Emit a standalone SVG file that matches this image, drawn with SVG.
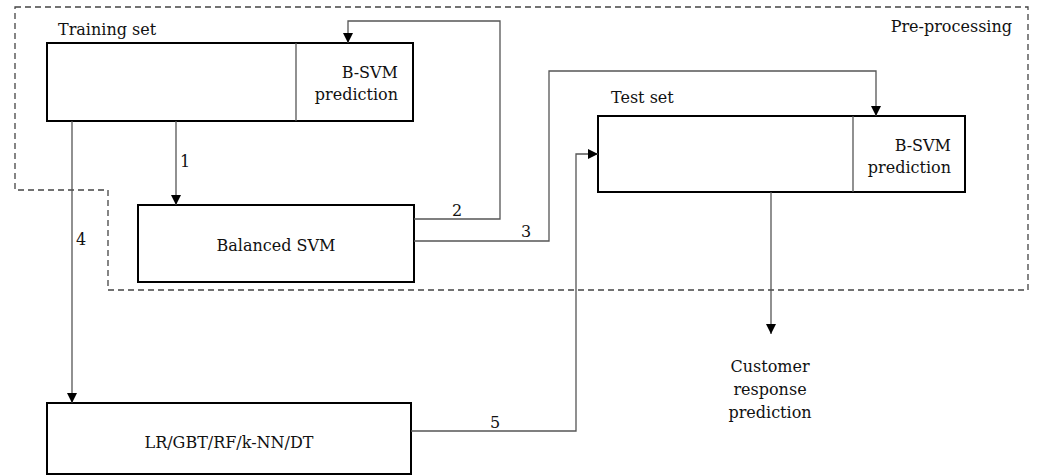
<svg xmlns="http://www.w3.org/2000/svg" width="1037" height="476" viewBox="0 0 1037 476">
<style>
.box{fill:#fff;stroke:#000;stroke-width:2}
.div{stroke:#555;stroke-width:1.3}
.con{fill:none;stroke:#555;stroke-width:1.3}
.dash{fill:none;stroke:#444;stroke-width:1.3;stroke-dasharray:6,4}
text{font-family:"DejaVu Serif","Liberation Serif",serif;font-size:16px;fill:#111}
.m{text-anchor:middle}
.e{text-anchor:end}
</style>
<defs>
<marker id="ah" viewBox="0 0 10 10" refX="10" refY="5" markerWidth="10" markerHeight="10" markerUnits="userSpaceOnUse" orient="auto">
<path d="M0,0 L10,5 L0,10 Z" fill="#000"/>
</marker>
</defs>
<path class="dash" d="M15,7 H1028 V290 H108 V190 H15 Z"/>
<text class="e" x="1012" y="32">Pre-processing</text>
<g id="training">
<rect class="box" x="47" y="43" width="366" height="78"/>
<line class="div" x1="296" y1="43" x2="296" y2="121"/>
<text x="58" y="35">Training set</text>
<text class="e" x="398" y="78">B-SVM</text>
<text class="e" x="398" y="100">prediction</text>
</g>
<g id="balanced">
<rect class="box" x="138" y="205" width="276" height="77"/>
<text class="m" x="276" y="251">Balanced SVM</text>
</g>
<g id="test">
<rect class="box" x="598" y="116" width="367" height="76"/>
<line class="div" x1="853" y1="116" x2="853" y2="192"/>
<text x="611" y="103">Test set</text>
<text class="e" x="951" y="151">B-SVM</text>
<text class="e" x="951" y="173">prediction</text>
</g>
<g id="models">
<rect class="box" x="47" y="403" width="364" height="71"/>
<text class="m" x="229" y="448">LR/GBT/RF/k-NN/DT</text>
</g>
<g id="output">
<text class="m" x="770" y="372">Customer</text>
<text class="m" x="770" y="395">response</text>
<text class="m" x="770" y="418">prediction</text>
</g>
<g id="connectors">
<path class="con" d="M176,121 V205" marker-end="url(#ah)"/>
<text x="180" y="167">1</text>
<path class="con" d="M414,219 H500 V21 H348 V43" marker-end="url(#ah)"/>
<text x="452" y="216">2</text>
<path class="con" d="M414,241 H549 V71 H876 V116" marker-end="url(#ah)"/>
<text x="521" y="237">3</text>
<path class="con" d="M72,121 V403" marker-end="url(#ah)"/>
<text x="76" y="245">4</text>
<path class="con" d="M411,431 H576 V154 H598" marker-end="url(#ah)"/>
<text x="490" y="428">5</text>
<path class="con" d="M771,192 V334" marker-end="url(#ah)"/>
</g>
</svg>
